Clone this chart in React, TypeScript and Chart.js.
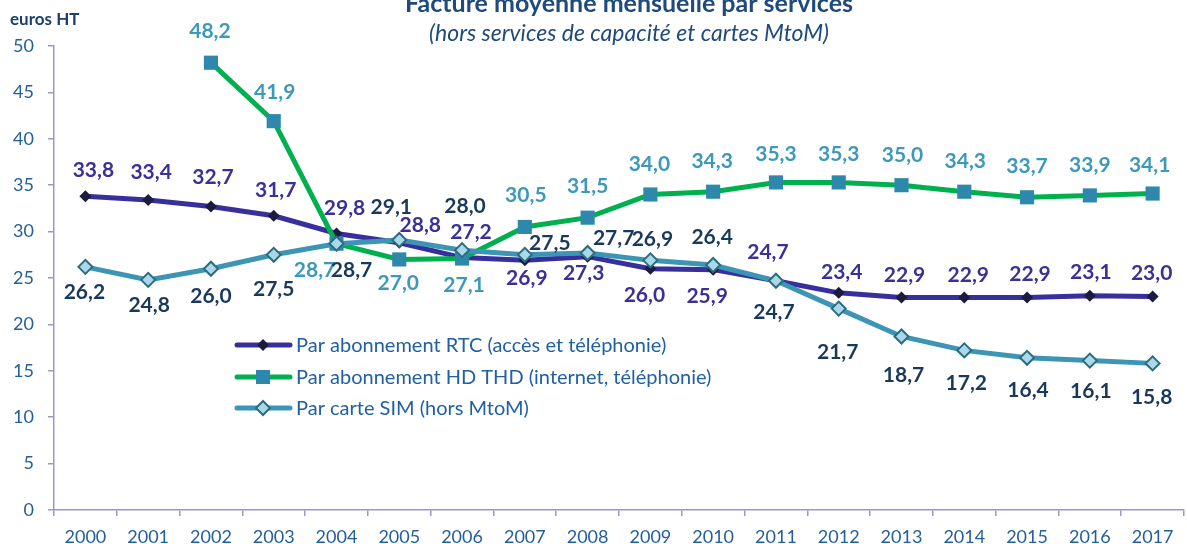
import React, { useEffect, useRef } from "react";
import { Chart, registerables } from "chart.js";

Chart.register(...registerables);

const years = ["2000","2001","2002","2003","2004","2005","2006","2007","2008","2009","2010","2011","2012","2013","2014","2015","2016","2017"];
const rtc = [33.8,33.4,32.7,31.7,29.8,28.8,27.2,26.9,27.3,26.0,25.9,24.7,23.4,22.9,22.9,22.9,23.1,23.0];
const hd = [null,null,48.2,41.9,28.7,27.0,27.1,30.5,31.5,34.0,34.3,35.3,35.3,35.0,34.3,33.7,33.9,34.1];
const sim = [26.2,24.8,26.0,27.5,28.7,29.1,28.0,27.5,27.7,26.9,26.4,24.7,21.7,18.7,17.2,16.4,16.1,15.8];
const seriesNames = [
  "Par abonnement RTC (accès et téléphonie)",
  "Par abonnement HD THD (internet, téléphonie)",
  "Par carte SIM (hors MtoM)",
];
const yTicks = [0,5,10,15,20,25,30,35,40,45,50];
const titleText = "Facture moyenne mensuelle par services";
const subtitleText = "(hors services de capacité et cartes MtoM)";
const unitText = "euros HT";

// label placement (style): [dx, dy] relative to each point
const rtcLabelOffsets = [[8,-26],[3,-28],[2,-29],[2,-26],[8,-25],[21,-18],[9,-25],[2,18],[-4,17],[-6,27],[-6,27],[-8,-29],[3,-21],[3,-22],[4,-22],[3,-23],[1,-23],[-1,-23]];
const hdLabelOffsets = [null,null,[-1,-31],[1,-29],[-22,27],[-1,24],[2,27],[1,-32],[0,-31],[-1,-30],[-1,-30],[0,-28],[0,-28],[1,-30],[1,-30],[0,-31],[0,-30],[-3,-28]];
const simLabelOffsets = [[-1,25],[1,25],[0,28],[0,34],[15,27],[-8,-33],[3,-44],[25,-12],[26,-15],[2,-21],[-1,-28],[-2,31],[-1,44],[2,39],[2,33],[1,32],[1,31],[-1,34]];

const FONT = "Lato, 'Open Sans', sans-serif";
const AXIS_COLOR = "#9b98c8";
const TICK_COLOR = "#235f9c";

const RTC_LINE = "#372f9c";
const RTC_MARK = "#1b1a40";
const HD_LINE = "#00b04f";
const HD_MARK = "#2e88ab";
const SIM_LINE = "#3d95b5";
const SIM_MARK = "#a8d8e9";
const SIM_MARK_BORDER = "#2c6c7e";

const labelColors = ["#3a3196", "#3d99bc", "#19395c"];
const labelOffsets = [rtcLabelOffsets, hdLabelOffsets, simLabelOffsets];

function fmt(v: number) {
  return v.toFixed(1).replace(".", ",");
}

function drawMarker(ctx: CanvasRenderingContext2D, kind: number, x: number, y: number) {
  ctx.save();
  if (kind === 0) {
    const r = 6;
    ctx.beginPath();
    ctx.moveTo(x, y - r); ctx.lineTo(x + r, y); ctx.lineTo(x, y + r); ctx.lineTo(x - r, y); ctx.closePath();
    ctx.fillStyle = RTC_MARK; ctx.fill();
  } else if (kind === 1) {
    ctx.fillStyle = HD_MARK;
    ctx.fillRect(x - 7, y - 7, 14, 14);
  } else {
    const r = 7;
    ctx.beginPath();
    ctx.moveTo(x, y - r); ctx.lineTo(x + r, y); ctx.lineTo(x, y + r); ctx.lineTo(x - r, y); ctx.closePath();
    ctx.fillStyle = SIM_MARK; ctx.fill();
    ctx.lineWidth = 2; ctx.strokeStyle = SIM_MARK_BORDER; ctx.stroke();
  }
  ctx.restore();
}

const decorPlugin = {
  id: "decor",
  afterDatasetsDraw(chart: any) {
    const ctx: CanvasRenderingContext2D = chart.ctx;
    // data labels
    ctx.save();
    ctx.font = `bold 21px ${FONT}`;
    ctx.textAlign = "center";
    ctx.textBaseline = "middle";
    chart.data.datasets.forEach((ds: any, di: number) => {
      const meta = chart.getDatasetMeta(di);
      meta.data.forEach((el: any, i: number) => {
        const v = ds.data[i];
        const off = labelOffsets[di][i];
        if (v == null || !off) return;
        ctx.fillStyle = labelColors[di];
        ctx.fillText(fmt(v), el.x + off[0], el.y + off[1]);
      });
    });
    ctx.restore();

    // legend
    ctx.save();
    const lineColors = [RTC_LINE, HD_LINE, SIM_LINE];
    const rows = [345, 377, 408];
    seriesNames.forEach((name, i) => {
      const y = rows[i];
      ctx.beginPath();
      ctx.moveTo(237, y); ctx.lineTo(290, y);
      ctx.lineWidth = 5; ctx.lineCap = "round";
      ctx.strokeStyle = lineColors[i]; ctx.stroke();
      drawMarker(ctx, i, 263, y);
      ctx.font = `20px ${FONT}`;
      ctx.fillStyle = "#2160a3";
      ctx.textAlign = "left";
      ctx.textBaseline = "middle";
      ctx.fillText(name, 296, y + 1);
    });
    ctx.restore();

    // titles
    ctx.save();
    ctx.textAlign = "center";
    ctx.fillStyle = "#1f4b7c";
    ctx.textBaseline = "alphabetic";
    ctx.font = `bold 25px ${FONT}`;
    ctx.fillText(titleText, 629, 12);
    ctx.font = `italic 23px ${FONT}`;
    ctx.fillText(subtitleText, 629, 41);
    ctx.textAlign = "left";
    ctx.textBaseline = "middle";
    ctx.font = `bold 17px ${FONT}`;
    ctx.fillStyle = "#1d3f6e";
    ctx.fillText(unitText, 10, 20);
    ctx.restore();
  },
};

export default function App() {
  const ref = useRef<HTMLCanvasElement | null>(null);
  useEffect(() => {
    if (!ref.current) return;
    const chart = new Chart(ref.current, {
      type: "line",
      data: {
        labels: years,
        datasets: [
          {
            label: seriesNames[0],
            data: rtc,
            borderColor: RTC_LINE,
            borderWidth: 5,
            pointStyle: "rectRot",
            pointRadius: 6,
            pointBackgroundColor: RTC_MARK,
            pointBorderColor: RTC_MARK,
            pointBorderWidth: 0,
            tension: 0,
            order: 2,
          },
          {
            label: seriesNames[1],
            data: hd,
            borderColor: HD_LINE,
            borderWidth: 5,
            pointStyle: "rect",
            pointRadius: 10,
            pointBackgroundColor: HD_MARK,
            pointBorderColor: HD_MARK,
            pointBorderWidth: 0,
            tension: 0,
            spanGaps: false,
            order: 1,
          },
          {
            label: seriesNames[2],
            data: sim,
            borderColor: SIM_LINE,
            borderWidth: 5,
            pointStyle: "rectRot",
            pointRadius: 7,
            pointBackgroundColor: SIM_MARK,
            pointBorderColor: SIM_MARK_BORDER,
            pointBorderWidth: 2,
            tension: 0,
            order: 0,
          },
        ],
      },
      options: {
        responsive: false,
        animation: false,
        events: [],
        layout: { padding: { top: 46, left: 0, right: 0, bottom: 0 } },
        plugins: {
          legend: { display: false },
          title: { display: false },
          tooltip: { enabled: false },
        },
        scales: {
          x: {
            offset: true,
            grid: {
              offset: true,
              drawOnChartArea: false,
              drawTicks: true,
              tickLength: 6,
              color: AXIS_COLOR,
              lineWidth: 1.5,
            },
            border: { color: AXIS_COLOR, width: 1.5 },
            ticks: {
              color: TICK_COLOR,
              font: { family: FONT, size: 18 },
              padding: 10,
              maxRotation: 0,
              autoSkip: false,
            },
            afterFit: (s: any) => { s.height = 34; },
          },
          y: {
            min: 0,
            max: 50,
            afterBuildTicks: (s: any) => { s.ticks = yTicks.map((v) => ({ value: v })); },
            grid: {
              drawOnChartArea: false,
              drawTicks: true,
              tickLength: 6,
              color: AXIS_COLOR,
              lineWidth: 1.5,
            },
            border: { color: AXIS_COLOR, width: 1.5 },
            ticks: {
              color: TICK_COLOR,
              font: { family: FONT, size: 18 },
              padding: 14,
            },
            afterFit: (s: any) => { s.width = 54; },
          },
        },
      },
      plugins: [decorPlugin],
    });
    return () => chart.destroy();
  }, []);
  return (
    <div style={{ position: "fixed", left: 0, top: 0, width: 1187, height: 544, overflow: "hidden", background: "#fff" }}>
      <canvas ref={ref} width={1194} height={544} style={{ display: "block" }} />
    </div>
  );
}
